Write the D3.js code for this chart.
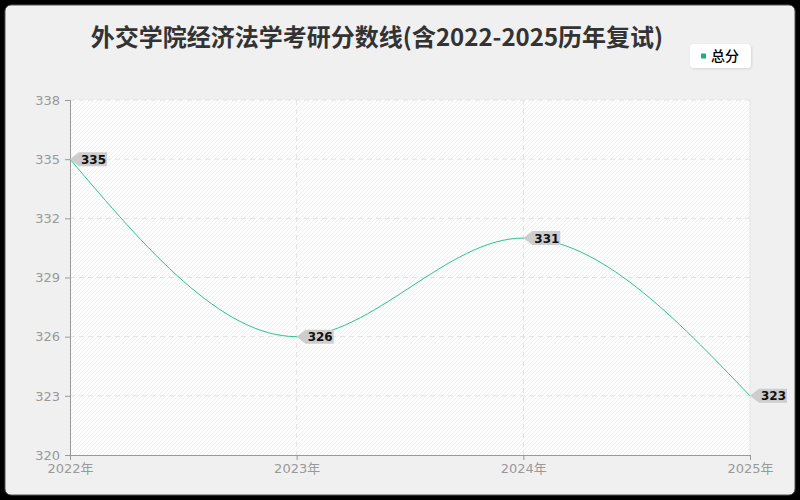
<!DOCTYPE html>
<html>
<head>
<meta charset="utf-8">
<script src="https://cdn.jsdelivr.net/npm/d3@7"></script>
<style>
  html, body { margin: 0; padding: 0; background: #000; }
  svg { display: block; font-family: "Noto Sans CJK SC", "Noto Sans", sans-serif; }
</style>
</head>
<body>
<svg id="chart" width="800" height="500"></svg>
<script>
// chart data
var years = ["2022年", "2023年", "2024年", "2025年"];
var scores = [335, 326, 331, 323];
var yTicks = [320, 323, 326, 329, 332, 335, 338];
var seriesName = "总分";
var title = "外交学院经济法学考研分数线(含2022-2025历年复试)";

var margin = {top: 100, right: 50, bottom: 45, left: 70},
    width = 800 - margin.left - margin.right,
    height = 500 - margin.top - margin.bottom;

var root = d3.select("#chart");

// panel
root.append("rect")
    .attr("x", 5).attr("y", 5)
    .attr("width", 790).attr("height", 490)
    .attr("rx", 6)
    .attr("fill", "#f0f0f0")
    .attr("stroke", "#555")
    .attr("stroke-width", 1);

// hatch pattern
var defs = root.append("defs");
var pat = defs.append("pattern")
    .attr("id", "hatch")
    .attr("patternUnits", "userSpaceOnUse")
    .attr("width", 4).attr("height", 4);
pat.append("rect").attr("width", 4).attr("height", 4).attr("fill", "#fdfdfd");
pat.append("path")
    .attr("d", "M-1,1 l2,-2 M0,4 l4,-4 M3,5 l2,-2")
    .attr("stroke", "#ececec")
    .attr("stroke-width", 0.8);

var shadow = defs.append("filter").attr("id", "shadow")
    .attr("x", "-20%").attr("y", "-20%").attr("width", "140%").attr("height", "160%");
shadow.append("feDropShadow")
    .attr("dx", 1).attr("dy", 1).attr("stdDeviation", 1)
    .attr("flood-color", "#000").attr("flood-opacity", 0.12);

// title
root.append("text")
    .attr("x", 377).attr("y", 46)
    .attr("text-anchor", "middle")
    .attr("font-size", 24)
    .attr("font-weight", "bold")
    .attr("fill", "#333")
    .text(title);

// legend
var legend = root.append("g").attr("transform", "translate(690,44)");
legend.append("rect")
    .attr("width", 61).attr("height", 24).attr("rx", 4)
    .attr("fill", "#fff")
    .attr("filter", "url(#shadow)");
legend.append("rect")
    .attr("x", 11).attr("y", 9.5).attr("width", 5).attr("height", 5)
    .attr("fill", "#1aaf7e");
legend.append("text")
    .attr("x", 21).attr("y", 17)
    .attr("font-size", 14)
    .attr("font-weight", 500)
    .attr("fill", "#000")
    .text(seriesName);

var svg = root.append("g")
    .attr("transform", "translate(" + margin.left + "," + margin.top + ")");

var x = d3.scalePoint()
    .domain(years)
    .range([0, width]);

var y = d3.scaleLinear()
    .domain([320, 338])
    .range([height, 0]);

// plot background
svg.append("rect")
    .attr("width", width).attr("height", height)
    .attr("fill", "url(#hatch)");
svg.append("line")
    .attr("x1", width).attr("x2", width)
    .attr("y1", 0).attr("y2", height)
    .attr("stroke", "#e4e4e4");

// grid
svg.append("g")
    .selectAll("line")
    .data(yTicks.slice(1))
    .enter()
    .append("line")
    .attr("x1", 0).attr("x2", width)
    .attr("y1", function(d) { return y(d); })
    .attr("y2", function(d) { return y(d); })
    .attr("stroke", "#e2e2e2")
    .attr("stroke-dasharray", "5,4");

svg.append("g")
    .selectAll("line")
    .data(years.slice(1, -1))
    .enter()
    .append("line")
    .attr("x1", function(d) { return x(d); })
    .attr("x2", function(d) { return x(d); })
    .attr("y1", 0).attr("y2", height)
    .attr("stroke", "#e2e2e2")
    .attr("stroke-dasharray", "5,4");

// axes
var yAxis = svg.append("g")
    .call(d3.axisLeft(y).tickValues(yTicks).tickSize(5).tickPadding(5));
yAxis.select(".domain").attr("stroke", "#999");
yAxis.selectAll(".tick line").attr("stroke", "#999");
yAxis.selectAll("text")
    .attr("fill", "#999")
    .attr("font-size", 13)
    .style("font-family", "'DejaVu Sans', sans-serif");

var xAxis = svg.append("g")
    .attr("transform", "translate(0," + height + ")")
    .call(d3.axisBottom(x).tickSize(5).tickPadding(4));
xAxis.select(".domain").attr("stroke", "#999");
xAxis.selectAll(".tick line").attr("stroke", "#999");
xAxis.selectAll("text")
    .attr("fill", "#999")
    .attr("font-size", 13)
    .style("font-family", "'DejaVu Sans', 'Noto Sans CJK SC', sans-serif");

// line
var data = years.map(function(d, i) { return {year: d, score: scores[i]}; });

var line = d3.line()
    .x(function(d) { return x(d.year); })
    .y(function(d) { return y(d.score); })
    .curve(d3.curveMonotoneX);

svg.append("path")
    .datum(data)
    .attr("d", line)
    .attr("fill", "none")
    .attr("stroke", "#2ec196")
    .attr("stroke-width", 1);

// value labels
var labels = svg.selectAll(".lbl")
    .data(data)
    .enter()
    .append("g")
    .attr("class", "lbl")
    .attr("transform", function(d) { return "translate(" + x(d.year) + "," + y(d.score) + ")"; });

labels.append("path")
    .attr("d", "M0,0 L9,-7 L37,-7 L37,7 L9,7 Z")
    .attr("fill", "#cdcdcd");

labels.append("text")
    .attr("x", 11).attr("y", 4.5)
    .attr("font-size", 12)
    .attr("font-weight", "bold")
    .attr("fill", "#111")
    .style("font-family", "'DejaVu Sans', sans-serif")
    .text(function(d) { return d.score; });
</script>
</body>
</html>
